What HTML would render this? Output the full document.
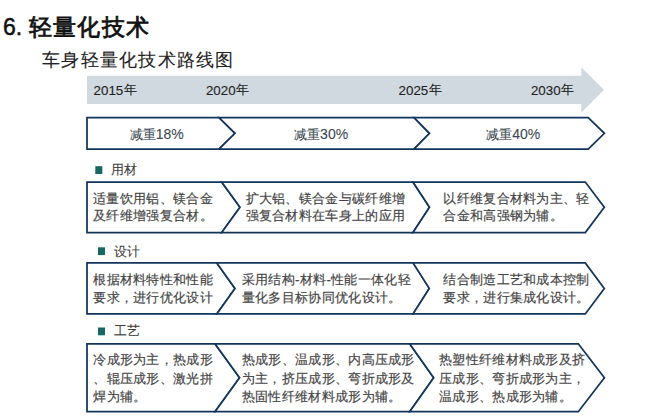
<!DOCTYPE html>
<html><head><meta charset="utf-8">
<style>
html,body{margin:0;padding:0;background:#fff;width:660px;height:417px;overflow:hidden}
svg{display:block;font-family:"Liberation Sans",sans-serif}
.title{fill:#111} .t6{font-size:23px;stroke:#111;stroke-width:0.5px} .tcjk{font-size:23.2px;stroke:#111;stroke-width:0.8px;letter-spacing:1.4px}
.sub{font-size:17.5px;letter-spacing:1.25px;fill:#222;stroke:#222;stroke-width:0.1px}
.yr{font-size:13.33px;fill:#1e1e1e;stroke:#1e1e1e;stroke-width:0.12px}
.cut{font-size:13.33px;fill:#3b4752;stroke:#3b4752;stroke-width:0.08px} .cutd{font-size:14px}
.lab{font-size:13.33px;letter-spacing:0.4px;fill:#3f3f3f;stroke:#3f3f3f;stroke-width:0.1px}
.body{font-size:13.33px;letter-spacing:0.3px;fill:#444;stroke:#444;stroke-width:0.18px}
</style></head><body>
<svg width="660" height="417" viewBox="0 0 660 417" xmlns="http://www.w3.org/2000/svg">
<text x="3" y="34.6" class="title"><tspan class="t6">6.</tspan><tspan x="28.6" class="tcjk">轻量化技术</tspan></text>
<text x="42" y="66" class="sub">车身轻量化技术路线图</text>
<polygon points="87,75.8 581.3,75.8 581.3,67.2 604,89.8 581.3,112.5 581.3,103.9 87,103.9" fill="#d0d9e0"/>
<polygon points="87,117.5 219,117.5 235,133.35 219,149.2 87,149.2" fill="#fff" stroke="#12355c" stroke-width="1.75" stroke-linejoin="miter"/>
<polygon points="219,117.5 414,117.5 429.5,133.35 414,149.2 219,149.2 235,133.35" fill="#fff" stroke="#12355c" stroke-width="1.75" stroke-linejoin="miter"/>
<polygon points="414,117.5 588.2,117.5 604.4,133.35 588.2,149.2 414,149.2 429.5,133.35" fill="#fff" stroke="#12355c" stroke-width="1.75" stroke-linejoin="miter"/>
<polygon points="87,182.0 221.7,182.0 240,207.3 221.7,232.6 87,232.6" fill="#fff" stroke="#12355c" stroke-width="1.75" stroke-linejoin="miter"/>
<polygon points="221.7,182.0 413,182.0 429.5,207.3 413,232.6 221.7,232.6 240,207.3" fill="#fff" stroke="#12355c" stroke-width="1.75" stroke-linejoin="miter"/>
<polygon points="413,182.0 585.3,182.0 604.3,207.3 585.3,232.6 413,232.6 429.5,207.3" fill="#fff" stroke="#12355c" stroke-width="1.75" stroke-linejoin="miter"/>
<polygon points="87,262.9 216.8,262.9 235,288.4 216.8,313.9 87,313.9" fill="#fff" stroke="#12355c" stroke-width="1.75" stroke-linejoin="miter"/>
<polygon points="216.8,262.9 413.1,262.9 429.3,288.4 413.1,313.9 216.8,313.9 235,288.4" fill="#fff" stroke="#12355c" stroke-width="1.75" stroke-linejoin="miter"/>
<polygon points="413.1,262.9 585.3,262.9 604.3,288.4 585.3,313.9 413.1,313.9 429.3,288.4" fill="#fff" stroke="#12355c" stroke-width="1.75" stroke-linejoin="miter"/>
<polygon points="87,343.8 215,343.8 239.6,377.75 215,411.7 87,411.7" fill="#fff" stroke="#12355c" stroke-width="1.75" stroke-linejoin="miter"/>
<polygon points="215,343.8 409.7,343.8 433.7,377.75 409.7,411.7 215,411.7 239.6,377.75" fill="#fff" stroke="#12355c" stroke-width="1.75" stroke-linejoin="miter"/>
<polygon points="409.7,343.8 578.3,343.8 604.4,377.75 578.3,411.7 409.7,411.7 433.7,377.75" fill="#fff" stroke="#12355c" stroke-width="1.75" stroke-linejoin="miter"/>
<text x="93.6" y="95.2" class="yr">2015<tspan dx="0.8" dy="-1">年</tspan></text>
<text x="205.9" y="95.2" class="yr">2020<tspan dx="0.8" dy="-1">年</tspan></text>
<text x="398.6" y="95.2" class="yr">2025<tspan dx="0.8" dy="-1">年</tspan></text>
<text x="530.9" y="95.2" class="yr">2030<tspan dx="0.8" dy="-1">年</tspan></text>
<text x="129.8" y="138.76" class="cut">减重<tspan class="cutd">18%</tspan></text>
<text x="294.1" y="138.76" class="cut">减重<tspan class="cutd">30%</tspan></text>
<text x="486.2" y="138.76" class="cut">减重<tspan class="cutd">40%</tspan></text>
<rect x="95.3" y="166.2" width="7" height="7.8" fill="#17665f"/>
<text x="110.8" y="174.26" class="lab">用材</text>
<rect x="98" y="247.3" width="7" height="7.8" fill="#17665f"/>
<text x="113.8" y="255.66" class="lab">设计</text>
<rect x="98" y="327.5" width="7" height="7.8" fill="#17665f"/>
<text x="113.8" y="335.06" class="lab">工艺</text>
<text x="93.2" y="202.56" class="body">适量饮用铝、镁合金</text>
<text x="93.2" y="220.16" class="body">及纤维增强复合材。</text>
<text x="245.6" y="202.56" class="body">扩大铝、镁合金与碳纤维增</text>
<text x="245.6" y="220.16" class="body">强复合材料在车身上的应用</text>
<text x="443.4" y="202.56" class="body">以纤维复合材料为主、轻</text>
<text x="443.4" y="220.16" class="body">合金和高强钢为辅。</text>
<text x="93.3" y="284.26" class="body">根据材料特性和性能</text>
<text x="93.3" y="302.26" class="body">要求，进行优化设计</text>
<text x="241.89999999999998" y="284.26" class="body">采用结构-材料-性能一体化轻</text>
<text x="241.89999999999998" y="302.26" class="body">量化多目标协同优化设计。</text>
<text x="443.4" y="284.26" class="body">结合制造工艺和成本控制</text>
<text x="443.4" y="302.26" class="body">要求，进行集成化设计。</text>
<text x="93.3" y="364.46" class="body">冷成形为主，热成形</text>
<text x="93.3" y="382.66" class="body">、辊压成形、激光拼</text>
<text x="93.3" y="400.86" class="body">焊为辅。</text>
<text x="241.89999999999998" y="364.46" class="body">热成形、温成形、内高压成形</text>
<text x="241.89999999999998" y="382.66" class="body">为主，挤压成形、弯折成形及</text>
<text x="241.89999999999998" y="400.86" class="body">热固性纤维材料成形为辅。</text>
<text x="439.09999999999997" y="364.46" class="body">热塑性纤维材料成形及挤</text>
<text x="439.09999999999997" y="382.66" class="body">压成形、弯折成形为主，</text>
<text x="439.09999999999997" y="400.86" class="body">温成形、热成形为辅。</text>
</svg>
</body></html>
